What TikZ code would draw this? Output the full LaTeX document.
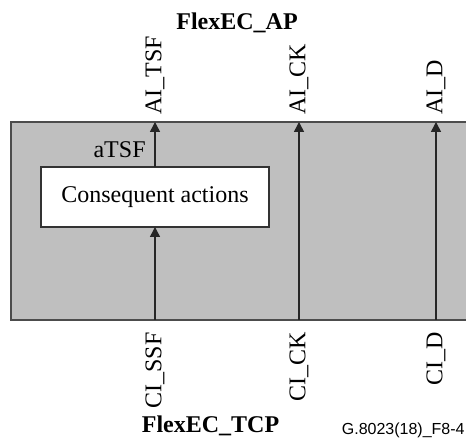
\documentclass[tikz,border=0pt]{standalone}
\usepackage{fontspec}
\setmainfont{Liberation Serif}
\newfontfamily\figsans{Liberation Sans}
\usepackage{tikz}
\usetikzlibrary{arrows.meta,positioning}

\begin{document}
\begin{tikzpicture}[
  x=0.5pt, y=0.5pt,
  every node/.style={font=\fontsize{12pt}{14pt}\selectfont},
  atomic/.style={draw=black!70, line width=0.9pt, fill=black!25, inner sep=0pt, outer sep=0pt},
  actbox/.style={draw=black!80, line width=0.75pt, fill=white, inner sep=0pt, outer sep=0pt, minimum width=114pt, minimum height=30pt},
  sig/.style={-{Triangle[length=5pt, width=5pt]}, line width=0.75pt, draw=black!85},
  toplbl/.style={rotate=90, anchor=west, inner sep=0pt},
  botlbl/.style={rotate=90, anchor=east, inner sep=0pt}
]
\useasboundingbox (0,0) rectangle (466,438);

% adaptation function
\node[atomic, minimum width=229.5pt, minimum height=99pt] (flexec) at (240.5,217) {};
\node[actbox] (cons) at (155,241) {Consequent actions};

% access points
\node[toplbl] (aitsf) at (155,323) {AI\_TSF};
\node[toplbl] (aick) at (299,323) {AI\_CK};
\node[toplbl] (aid) at (436,323) {AI\_D};
\node[botlbl] (cissf) at (155,106) {CI\_SSF};
\node[botlbl] (cick) at (299,106) {CI\_CK};
\node[botlbl] (cid) at (436,106) {CI\_D};

\node[anchor=base east, inner sep=0pt] (atsf) at (146,280) {aTSF};
\node[anchor=base, inner sep=0pt, font=\fontsize{12pt}{14pt}\selectfont\bfseries] (ap) at (237,408) {FlexEC\_AP};
\node[anchor=base, inner sep=0pt, font=\fontsize{12pt}{14pt}\selectfont\bfseries] (tcp) at (210.5,5) {FlexEC\_TCP};
\node[anchor=base east, inner sep=0pt, font=\figsans\fontsize{8pt}{10pt}\selectfont] (figid) at (465,3) {G.8023(18)\_F8-4};

\draw[sig] (cissf.east |- flexec.south) -- (cons.south);
\draw[sig] (cons.north) -- (aitsf.west |- flexec.north);
\draw[sig] (cick.east |- flexec.south) -- (aick.west |- flexec.north);
\draw[sig] (cid.east |- flexec.south) -- (aid.west |- flexec.north);
\end{tikzpicture}
\end{document}
